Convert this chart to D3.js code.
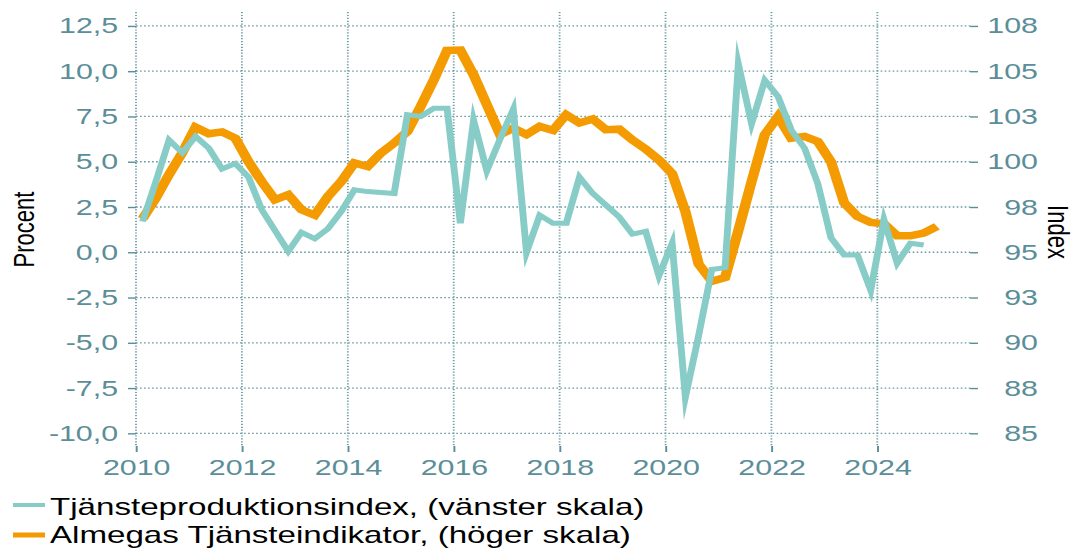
<!DOCTYPE html>
<html><head><meta charset="utf-8">
<script src="https://cdn.jsdelivr.net/npm/d3@7"></script>
<style>html,body{margin:0;padding:0;background:#fff;overflow:hidden}svg{display:block}</style>
</head><body><svg id="c"></svg>
<script>
// ---- data ----
const quarters = ["2010Q1","2010Q2","2010Q3","2010Q4","2011Q1","2011Q2","2011Q3","2011Q4",
"2012Q1","2012Q2","2012Q3","2012Q4","2013Q1","2013Q2","2013Q3","2013Q4",
"2014Q1","2014Q2","2014Q3","2014Q4","2015Q1","2015Q2","2015Q3","2015Q4",
"2016Q1","2016Q2","2016Q3","2016Q4","2017Q1","2017Q2","2017Q3","2017Q4",
"2018Q1","2018Q2","2018Q3","2018Q4","2019Q1","2019Q2","2019Q3","2019Q4",
"2020Q1","2020Q2","2020Q3","2020Q4","2021Q1","2021Q2","2021Q3","2021Q4",
"2022Q1","2022Q2","2022Q3","2022Q4","2023Q1","2023Q2","2023Q3","2023Q4",
"2024Q1","2024Q2","2024Q3","2024Q4","2025Q1"];
// Tjänsteproduktionsindex, procent (vänster skala)
const tjansteproduktion = [1.7,3.9,6.2,5.5,6.4,5.75,4.6,4.9,4.15,2.35,1.2,0.05,1.1,0.75,1.3,2.25,
3.45,3.35,3.3,3.25,7.6,7.5,7.95,7.95,1.6,7.3,4.5,6.25,7.9,0.0,2.05,1.6,1.6,4.15,3.25,2.6,
1.95,1.0,1.15,-1.3,0.5,-8.0,-4.6,-0.95,-0.85,10.4,7.1,9.5,8.6,6.75,5.75,3.8,0.8,-0.15,-0.15,
-2.1,1.8,-0.6,0.5,0.4];
// Almegas Tjänsteindikator, index (höger skala)
const almega = [96.85,98.0,99.3,100.5,101.9,101.55,101.65,101.3,100.0,98.9,97.9,98.18,97.35,97.05,
98.08,98.9,99.93,99.74,100.48,101.03,101.67,103.05,104.53,106.15,106.17,104.8,103.15,101.5,101.86,
101.5,101.95,101.73,102.6,102.14,102.36,101.77,101.8,101.2,100.7,100.1,99.34,97.25,94.35,93.4,
93.61,96.2,98.9,101.5,102.5,101.3,101.4,101.12,100.0,97.72,96.98,96.65,96.57,95.91,95.91,96.06,96.43];
const leftTicks = [-10,-7.5,-5,-2.5,0,2.5,5,7.5,10,12.5];
const rightTicks = [85,87.5,90,92.5,95,97.5,100,102.5,105,107.5];
const yearTicks = [2010,2012,2014,2016,2018,2020,2022,2024];
const seriesNames = ["Tjänsteproduktionsindex, (vänster skala)","Almegas Tjänsteindikator, (höger skala)"];
const leftTitle = "Procent", rightTitle = "Index";

// ---- layout (drawn in a narrower space and stretched horizontally) ----
const W = 1074, H = 548, SX = 1.3805, W0 = W / SX;
const FONT = "'Liberation Sans', Arial, sans-serif";
const TEAL = "#88ccc7", ORANGE = "#f39b00", AX = "#5b8e98", GRID = "#6b9ba4";
const pLeft = 136 / SX, pRight = 970 / SX, pTop = 12, pBottom = 446;

const svg = d3.select("#c").attr("width", W).attr("height", H)
  .attr("viewBox", `0 0 ${W0} ${H}`).attr("preserveAspectRatio", "none");

const x = d3.scaleLinear().domain([2010, 2025.75]).range([pLeft, pRight]);
const yL = d3.scaleLinear().domain([-10.7, 13.27]).range([pBottom, pTop]);
const yR = d3.scaleLinear().domain([84.3, 108.27]).range([pBottom, pTop]);
const qx = q => { const yy = +q.slice(0, 4), n = +q.slice(5); return yy + (n - 0.5) / 4; };

// grid
const g = svg.append("g").attr("stroke", GRID).attr("stroke-width", 1.3).attr("stroke-dasharray", "1.2,1.7");
g.selectAll(".h").data(leftTicks).join("line").attr("class", "h")
  .attr("x1", pLeft).attr("x2", pRight).attr("y1", d => yL(d)).attr("y2", d => yL(d));
g.selectAll(".v").data(yearTicks).join("line").attr("class", "v")
  .attr("y1", pTop).attr("y2", pBottom).attr("x1", d => x(d)).attr("x2", d => x(d));

// axes
function styleAxis(sel, anchor) {
  sel.select(".domain").remove();
  sel.selectAll(".tick line").attr("stroke", AX).attr("stroke-width", 1.4);
  sel.selectAll(".tick text").attr("fill", AX).style("font-family", FONT).style("font-size", "22px");
  if (anchor) sel.selectAll(".tick text").attr("text-anchor", anchor);
}
const tk = 8 / SX;
svg.append("g").attr("transform", `translate(${pLeft},0)`)
  .call(d3.axisLeft(yL).tickValues(leftTicks).tickSize(tk).tickPadding(7.2)
    .tickFormat(d => d.toFixed(1).replace(".", ",")))
  .call(s => styleAxis(s));
svg.append("g").attr("transform", `translate(${pRight},0)`)
  .call(d3.axisRight(yR).tickValues(rightTicks).tickSize(tk)
    .tickFormat(d => String(Math.round(d))))
  .call(s => { styleAxis(s, "end"); s.selectAll(".tick text").attr("x", 1038 / SX - pRight); });
svg.append("g").attr("transform", `translate(0,${pBottom})`)
  .call(d3.axisBottom(x).tickValues(yearTicks).tickSize(6).tickPadding(7).tickFormat(d3.format("d")))
  .call(s => styleAxis(s));

// axis titles
svg.append("text").attr("transform", `translate(${34.3 / SX},229.5) rotate(-90)`)
  .attr("text-anchor", "middle").style("font-family", FONT).style("font-size", "22px")
  .attr("fill", "#000").text(leftTitle);
svg.append("text").attr("transform", `translate(${1048 / SX},232) rotate(90)`)
  .attr("text-anchor", "middle").style("font-family", FONT).style("font-size", "22px")
  .attr("fill", "#000").text(rightTitle);

// lines
const lineR = d3.line().x((d, i) => x(qx(quarters[i]))).y(d => yR(d));
const lineL = d3.line().x((d, i) => x(qx(quarters[i]))).y(d => yL(d));
svg.append("path").datum(almega).attr("d", lineR).attr("fill", "none")
  .attr("stroke", ORANGE).attr("stroke-width", 7.5).attr("stroke-linejoin", "miter").attr("stroke-miterlimit", 4);
svg.append("path").datum(tjansteproduktion).attr("d", lineL).attr("fill", "none")
  .attr("stroke", TEAL).attr("stroke-width", 5).attr("stroke-linejoin", "miter").attr("stroke-miterlimit", 10);

// legend
const leg = [{name: seriesNames[0], c: TEAL, w: 4, ly: 505, ty: 515},
             {name: seriesNames[1], c: ORANGE, w: 5, ly: 535, ty: 543}];
const lg = svg.append("g");
lg.selectAll("line").data(leg).join("line")
  .attr("x1", 13 / SX).attr("x2", 45 / SX).attr("y1", d => d.ly).attr("y2", d => d.ly)
  .attr("stroke", d => d.c).attr("stroke-width", d => d.w);
lg.selectAll("text").data(leg).join("text")
  .attr("x", 50 / SX).attr("y", d => d.ty).style("font-family", FONT).style("font-size", "24px")
  .attr("fill", "#000").text(d => d.name);
</script></body></html>
